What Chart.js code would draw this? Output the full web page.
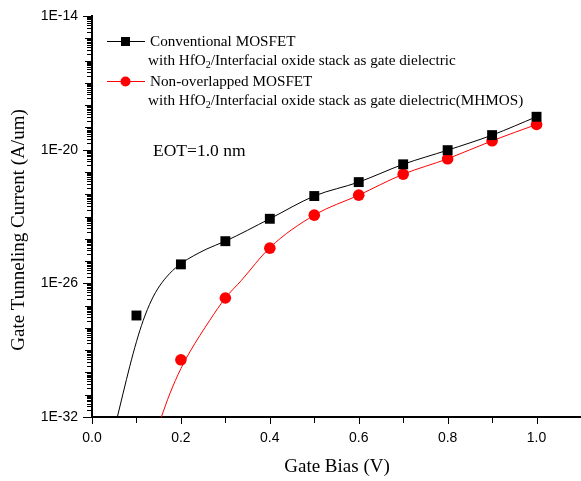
<!DOCTYPE html>
<html>
<head>
<meta charset="utf-8">
<script src="https://cdn.jsdelivr.net/npm/chart.js@4"></script>
<style>
  html, body { margin: 0; padding: 0; background: #fff; }
  #wrap { width: 581px; height: 481px; }
</style>
</head>
<body>
<div id="wrap"><canvas id="myChart" width="581" height="481"></canvas></div>
<script>
// measured points (markers)
var biasConv   = [0.1, 0.2, 0.3, 0.4, 0.5, 0.6, 0.7, 0.8, 0.9, 1.0];
var currConv   = [3.6e-28, 7.1e-26, 7.8e-25, 7.9e-24, 8.3e-23, 3.5e-22, 2.2e-21, 9.5e-21, 4.5e-20, 3.0e-19];
var biasMh     = [0.2, 0.3, 0.4, 0.5, 0.6, 0.7, 0.8, 0.9, 1.0];
var currMh     = [3.7e-30, 2.2e-27, 3.8e-25, 1.15e-23, 9.1e-23, 7.9e-22, 3.9e-21, 2.5e-20, 1.35e-19];

// fitted curves
var fitBiasConv = [0.057, 0.070, 0.085, 0.100, 0.115, 0.134, 0.152, 0.175, 0.2, 0.257, 0.3, 0.4, 0.5, 0.6, 0.7, 0.8, 0.9, 1.0];
var fitCurrConv = [1.0e-32, 1.17e-31, 1.9e-30, 2.4e-29, 2.1e-28, 1.78e-27, 7.6e-27, 2.8e-26, 7.6e-26, 3.4e-25, 7.8e-25, 7.9e-24, 8.3e-23, 3.5e-22, 2.2e-21, 9.5e-21, 4.5e-20, 3.0e-19];
var fitBiasMh   = [0.156, 0.175, 0.2, 0.22, 0.265, 0.3, 0.336, 0.4, 0.5, 0.6, 0.7, 0.8, 0.9, 1.0];
var fitCurrMh   = [1.0e-32, 1.1e-31, 1.5e-30, 8.3e-30, 2.2e-28, 2.2e-27, 1.35e-26, 4.0e-25, 1.15e-23, 9.1e-23, 7.9e-22, 3.9e-21, 2.5e-20, 1.35e-19];

var xTicks = [0.0, 0.2, 0.4, 0.6, 0.8, 1.0];
var yTicks = [1e-32, 1e-26, 1e-20, 1e-14];

var legendItems = [
  { color: '#000000', marker: 'rect',   line1: 'Conventional MOSFET',    line2: ['with HfO', '2', '/Interfacial oxide stack as gate dielectric'] },
  { color: '#ff0000', marker: 'circle', line1: 'Non-overlapped MOSFET', line2: ['with HfO', '2', '/Interfacial oxide stack as gate dielectric(MHMOS)'] }
];

function pts(xs, ys) {
  var out = [];
  for (var i = 0; i < xs.length; i++) out.push({ x: xs[i], y: ys[i] });
  return out;
}

var serif = '"Liberation Serif", "Times New Roman", serif';
var sans  = '"Liberation Sans", Arial, sans-serif';

var decorations = {
  id: 'decorations',
  afterDraw: function (chart) {
    var ctx = chart.ctx;
    var xs = chart.scales.x, ys = chart.scales.y;
    var area = chart.chartArea;
    ctx.save();
    ctx.strokeStyle = '#000';
    ctx.lineWidth = 1;
    // y ticks, outward
    for (var e = -32; e <= -14; e++) {
      for (var m = 1; m <= 9; m++) {
        if (e === -14 && m > 1) break;
        var v = m * Math.pow(10, e);
        var py = Math.round(ys.getPixelForValue(v)) + 0.5;
        var len = 4;
        if (m === 1) len = ((e + 32) % 6 === 0) ? 8 : 6;
        ctx.beginPath();
        ctx.moveTo(area.left - 1, py);
        ctx.lineTo(area.left - 1 - len, py);
        ctx.stroke();
      }
    }
    // x ticks, outward
    for (var k = 0; k <= 10; k++) {
      var px = Math.round(xs.getPixelForValue(k / 10)) + 0.5;
      var l = (k % 2 === 0) ? 6 : 5;
      ctx.beginPath();
      ctx.moveTo(px, area.bottom + 1);
      ctx.lineTo(px, area.bottom + 1 + l);
      ctx.stroke();
    }

    // axis titles
    ctx.fillStyle = '#000';
    ctx.font = '19px ' + serif;
    ctx.textAlign = 'center';
    ctx.textBaseline = 'middle';
    ctx.fillText('Gate Bias (V)', 337, 467);
    ctx.save();
    ctx.translate(19, 230);
    ctx.rotate(-Math.PI / 2);
    ctx.fillText('Gate Tunneling Current (A/um)', 0, 0);
    ctx.restore();

    // legend
    ctx.textAlign = 'left';
    ctx.textBaseline = 'alphabetic';
    var ly = [41, 81];
    legendItems.forEach(function (it, i) {
      var y = ly[i];
      ctx.strokeStyle = it.color;
      ctx.fillStyle = it.color;
      ctx.lineWidth = 1;
      ctx.beginPath();
      ctx.moveTo(107, y + 0.5);
      ctx.lineTo(145, y + 0.5);
      ctx.stroke();
      if (it.marker === 'rect') {
        ctx.fillRect(121, y - 4, 9, 9);
      } else {
        ctx.beginPath();
        ctx.arc(125.5, y + 0.5, 5, 0, Math.PI * 2);
        ctx.fill();
      }
      ctx.fillStyle = '#000';
      ctx.font = '15.2px ' + serif;
      ctx.fillText(it.line1, 150, y + 5);
      var tx = 148, by = y + 24;
      ctx.fillText(it.line2[0], tx, by);
      tx += ctx.measureText(it.line2[0]).width;
      ctx.font = '10px ' + serif;
      ctx.fillText(it.line2[1], tx, by + 3);
      tx += ctx.measureText(it.line2[1]).width;
      ctx.font = '15.2px ' + serif;
      ctx.fillText(it.line2[2], tx, by);
    });

    ctx.font = '17.5px ' + serif;
    ctx.fillText('EOT=1.0 nm', 153, 156);
    ctx.restore();
  }
};

var ctx = document.getElementById('myChart');
var myChart = new Chart(ctx, {
  type: 'line',
  data: {
    datasets: [
      {
        label: 'fit conv',
        data: pts(fitBiasConv, fitCurrConv),
        borderColor: '#000000',
        borderWidth: 1,
        pointRadius: 0,
        cubicInterpolationMode: 'monotone',
        fill: false
      },
      {
        label: 'Conventional MOSFET',
        data: pts(biasConv, currConv),
        showLine: false,
        pointStyle: 'rect',
        pointRadius: 7,
        backgroundColor: '#000000',
        borderColor: '#000000',
        borderWidth: 0
      },
      {
        label: 'fit mhmos',
        data: pts(fitBiasMh, fitCurrMh),
        borderColor: '#ff0000',
        borderWidth: 1,
        pointRadius: 0,
        cubicInterpolationMode: 'monotone',
        fill: false
      },
      {
        label: 'Non-overlapped MOSFET',
        data: pts(biasMh, currMh),
        showLine: false,
        pointStyle: 'circle',
        pointRadius: 5.8,
        backgroundColor: '#ff0000',
        borderColor: '#ff0000',
        borderWidth: 0
      }
    ]
  },
  options: {
    responsive: false,
    animation: false,
    layout: { autoPadding: false, padding: { top: 16, right: 0, left: 0, bottom: 0 } },
    plugins: {
      legend: { display: false },
      tooltip: { enabled: false }
    },
    scales: {
      x: {
        type: 'linear',
        min: 0,
        max: 1.1,
        afterBuildTicks: function (scale) {
          scale.ticks = xTicks.map(function (v) { return { value: v }; });
        },
        afterFit: function (scale) {
          scale.height = 64;
          scale.paddingLeft = 0;
          scale.paddingRight = 0;
        },
        grid: { display: false, drawTicks: false },
        border: { display: true, color: '#000', width: 2 },
        ticks: {
          color: '#000',
          padding: 13,
          maxRotation: 0,
          font: { family: sans, size: 14 },
          callback: function (v) { return Number(v).toFixed(1); }
        }
      },
      y: {
        type: 'logarithmic',
        min: 1e-32,
        max: 1e-14,
        afterBuildTicks: function (scale) {
          scale.ticks = yTicks.map(function (v) { return { value: v }; });
        },
        afterFit: function (scale) {
          scale.width = 92;
          scale.paddingTop = 0;
          scale.paddingBottom = 0;
        },
        grid: { display: false, drawTicks: false },
        border: { display: true, color: '#000', width: 2 },
        ticks: {
          color: '#000',
          padding: 14,
          font: { family: sans, size: 14 },
          callback: function (v) { return '1E' + Math.round(Math.log10(v)); }
        }
      }
    }
  },
  plugins: [decorations]
});
</script>
</body>
</html>
